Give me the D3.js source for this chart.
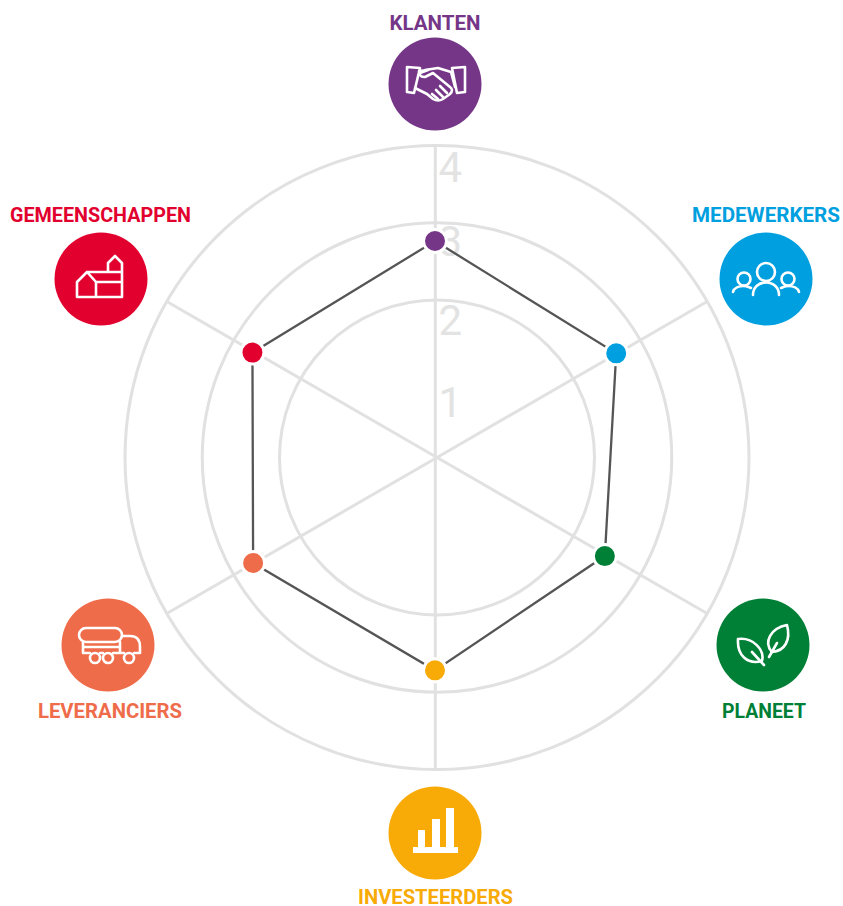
<!DOCTYPE html>
<html>
<head>
<meta charset="utf-8">
<script src="https://cdn.jsdelivr.net/npm/d3@7"></script>
<style>
  html, body { margin: 0; background: #fff; }
  svg { display: block; }
  text { font-family: Roboto, sans-serif; }
  .icon * { fill: none; stroke: #fff; stroke-width: 2.6; stroke-linejoin: round; stroke-linecap: round; }
  .icon .solid { fill: #fff; stroke: none; }
</style>
</head>
<body>
<svg width="843" height="906"></svg>
<script>
var categories = ["KLANTEN", "MEDEWERKERS", "PLANEET", "INVESTEERDERS", "LEVERANCIERS", "GEMEENSCHAPPEN"],
    scores = [2.77, 2.67, 2.50, 2.71, 2.68, 2.69],
    colors = ["#753688", "#009fe0", "#007f36", "#f8aa07", "#ef6c4a", "#e2002e"],
    ringLevels = [2, 3, 4],
    tickLabels = [1, 2, 3, 4];

// badge centre, label baseline and label width per category
var badgeX = [435, 766, 763, 435, 108, 101],
    badgeY = [84, 279, 645, 833, 645, 279],
    labelX = [435, 766, 764, 435.5, 110, 100.5],
    labelY = [30, 222, 718, 904, 718, 222],
    labelW = [91, 148, 84, 155, 144, 181];

// the numbers do not sit at one fixed distance from the rings
var tickOffset = [39, 34.5, 33, 36];

var svg = d3.select("svg"),
    cx = 435,
    cy = 458,
    gridCx = 437,
    gridCy = 457.5;

var r = d3.scaleLinear().domain([0, 4]).range([3, 312]);

var angle = d3.scaleLinear()
    .domain([0, categories.length])
    .range([0, 2 * Math.PI]);

function polar(a, radius) {
    return [radius * Math.sin(a), -radius * Math.cos(a)];
}

var grid = svg.append("g").attr("transform", "translate(" + gridCx + "," + gridCy + ")");
var chart = svg.append("g").attr("transform", "translate(" + cx + "," + cy + ")");

// rings
grid.append("g").selectAll("circle")
    .data(ringLevels)
    .enter().append("circle")
    .attr("r", function(d) { return r(d); })
    .attr("fill", "none")
    .attr("stroke", "#e1e1e1")
    .attr("stroke-width", 3);

// spokes, the vertical ones run a little left of the ring centre
grid.append("g").selectAll("line")
    .data(categories)
    .enter().append("line")
    .attr("transform", function(d, i) { return i % 3 == 0 ? "translate(-1.7,0)" : null; })
    .attr("x2", function(d, i) { return polar(angle(i), r(4))[0]; })
    .attr("y2", function(d, i) { return polar(angle(i), r(4))[1]; })
    .attr("stroke", "#e1e1e1")
    .attr("stroke-width", 3);

// scale numbers
chart.append("g").selectAll("text")
    .data(tickLabels)
    .enter().append("text")
    .attr("x", 3.5)
    .attr("y", function(d, i) { return -r(d) + tickOffset[i]; })
    .attr("font-size", 42)
    .attr("fill", "#e3e3e3")
    .text(function(d) { return d; });

// score line
var line = d3.lineRadial()
    .angle(function(d, i) { return angle(i); })
    .radius(function(d) { return r(d); })
    .curve(d3.curveLinearClosed);

chart.append("path")
    .attr("d", line(scores))
    .attr("fill", "none")
    .attr("stroke", "#555")
    .attr("stroke-width", 2.3);

chart.append("g").selectAll("circle")
    .data(scores)
    .enter().append("circle")
    .attr("cx", function(d, i) { return polar(angle(i), r(d))[0]; })
    .attr("cy", function(d, i) { return polar(angle(i), r(d))[1]; })
    .attr("r", 11.5)
    .attr("fill", function(d, i) { return colors[i]; })
    .attr("stroke", "#fff")
    .attr("stroke-width", 3);

// icons are drawn around 0,0 of their badge
var icons = [
    function(g) { // handshake
        g.append("path").attr("d", "M-28,-17 L-15,-16 L-21,9 L-28,8 Z");
        g.append("path").attr("d", "M17,-16 L30,-17 L30,8 L22,9 Z");
        g.append("path").attr("d", "M-16,-13 L-8,-14 M-10,-14 L3,-16 L16,-12 M16,-12 L20,3");
        g.append("path").attr("d", "M-20,4 L-8,10 L-2,15 Q3,18 8,15 L15,10 Q19,6 15,3 L-2,-11 L-10,-7 Q-16,-7 -15,-11 L-7,-14");
        g.append("path").attr("d", "M1,6 L8,13 M5,2 L12,9 M-3,10 L3,15");
    },
    function(g) { // people
        g.append("circle").attr("cy", -7).attr("r", 9);
        g.append("circle").attr("cx", -22).attr("cy", 0).attr("r", 6.5);
        g.append("circle").attr("cx", 22).attr("cy", 0).attr("r", 6.5);
        g.append("path").attr("d", "M-13,16 C-13,8 -7,3.5 0,3.5 S13,8 13,16");
        g.append("path").attr("d", "M-33,13 C-32,9 -27,7 -22,7 C-19,7 -17,8 -15,9");
        g.append("path").attr("d", "M33,13 C32,9 27,7 22,7 C19,7 17,8 15,9");
    },
    function(g) { // leaves
        g.append("path").attr("d", "M-25,-6 C-10,-8 2,5 -1,16 C-16,20 -26,10 -25,-6 Z");
        g.append("path").attr("d", "M-11,7 L1,20");
        g.append("path").attr("d", "M24,-20 C28,-5 22,6 9,7 C0,-3 8,-17 24,-20 Z");
        g.append("path").attr("d", "M6,12 L14,-2");
    },
    function(g) { // bars
        g.append("path").attr("class", "solid").attr("d", "M-22,14 H23 V20 H-22 Z");
        g.append("path").attr("class", "solid").attr("d", "M-17,-3 H-10 V14 H-17 Z");
        g.append("path").attr("class", "solid").attr("d", "M-3,-14 H5 V14 H-3 Z");
        g.append("path").attr("class", "solid").attr("d", "M11,-25 H19 V14 H11 Z");
    },
    function(g) { // tanker truck
        g.append("rect").attr("x", -29).attr("y", -17).attr("width", 43).attr("height", 14).attr("rx", 7);
        g.append("path").attr("d", "M-25,-3 V8 H-18 M-8,8 H-5 M5,8 H16 M26,8 H32 V2 Q32,-9 22,-9 H14 M-25,2 H12 M12,-3 V8");
        g.append("circle").attr("cx", -13).attr("cy", 13).attr("r", 5);
        g.append("circle").attr("cy", 13).attr("r", 5);
        g.append("circle").attr("cx", 21).attr("cy", 13).attr("r", 5);
    },
    function(g) { // church and houses
        g.append("path").attr("d", "M-24,18 V3 L-14,-7 L-5,3 V18 M-24,18 H21 V-16 L14,-23 L7,-16 V-7 M-14,-7 H21 M-5,3 H21");
    }
];

var badge = svg.append("g").selectAll("g")
    .data(categories)
    .enter().append("g");

badge.append("circle")
    .attr("cx", function(d, i) { return badgeX[i]; })
    .attr("cy", function(d, i) { return badgeY[i]; })
    .attr("r", 46.5)
    .attr("fill", function(d, i) { return colors[i]; });

badge.append("g")
    .attr("class", "icon")
    .attr("transform", function(d, i) { return "translate(" + badgeX[i] + "," + badgeY[i] + ")"; })
    .each(function(d, i) { icons[i](d3.select(this)); });

badge.append("text")
    .attr("x", function(d, i) { return labelX[i]; })
    .attr("y", function(d, i) { return labelY[i]; })
    .attr("text-anchor", "middle")
    .attr("font-size", 20)
    .attr("font-weight", 700)
    .attr("textLength", function(d, i) { return labelW[i]; })
    .attr("lengthAdjust", "spacingAndGlyphs")
    .attr("fill", function(d, i) { return colors[i]; })
    .text(function(d) { return d; });
</script>
</body>
</html>
